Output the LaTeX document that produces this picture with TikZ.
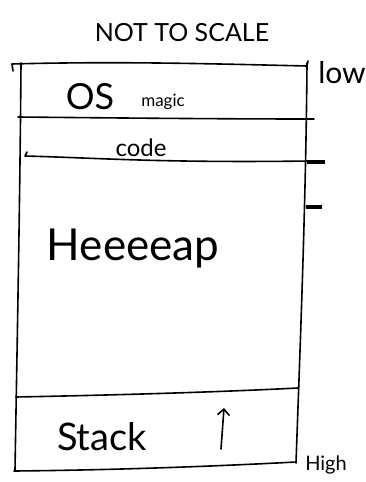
\documentclass[tikz,border=0pt]{standalone}
\usepackage{fontspec}
\setmainfont{Lato}
\usetikzlibrary{arrows.meta}
\begin{document}
\begin{tikzpicture}[x=1pt,y=-1pt,
  pen/.style={line width=1.6pt,line cap=round,line join=round},
  tick/.style={line width=3.6pt},
  lbl/.style={inner sep=0pt}]
\useasboundingbox (0,0) rectangle (365,482);
% title
\node[lbl,font=\fontsize{25}{25}\selectfont] (title) at (182,33) {NOT TO SCALE};
% outer frame
\draw[pen] (13,71) -- (12,64) .. controls (120,61) and (220,64) .. (307,66) -- (308,61);
\draw[pen] (21,63) .. controls (20,200) and (17,350) .. (15,470);
\draw[pen] (307,63) .. controls (306,200) and (300,350) .. (296,463);
% region boundaries
\draw[pen] (18,117) .. controls (120,118) and (220,119) .. (314,119);
\draw[pen] (27,152) -- (25,156) .. controls (100,158) and (160,163) .. (310,161);
\draw[tick] (307,162) -- (325,162);
\draw[tick] (306,207) -- (322,207);
\draw[pen] (16,397) .. controls (120,395) and (220,392) .. (298,388);
\draw[pen] (14,471) .. controls (120,470) and (220,466) .. (296,462);
% labels
\node[lbl,font=\fontsize{30}{30}\selectfont] (low) at (342,73) {low};
\node[lbl,font=\fontsize{36}{36}\selectfont] (os) at (90,97) {OS};
\node[lbl,font=\fontsize{17}{17}\selectfont] (magic) at (163,102) {magic};
\node[lbl,font=\fontsize{24}{24}\selectfont] (code) at (141,148) {code};
\node[lbl,font=\fontsize{44}{44}\selectfont] (heap) at (133,249) {Heeeeap};
\node[lbl,font=\fontsize{38}{38}\selectfont] (stack) at (102,437) {Stack};
\node[lbl,font=\fontsize{20}{20}\selectfont] (high) at (326,465) {High};
% growth direction
\coordinate (grow0) at (221,449);
\coordinate (grow1) at (224,408);
\draw[pen,-{Straight Barb[length=6pt,width=12pt]}] (grow0) -- (grow1);
\end{tikzpicture}
\end{document}
